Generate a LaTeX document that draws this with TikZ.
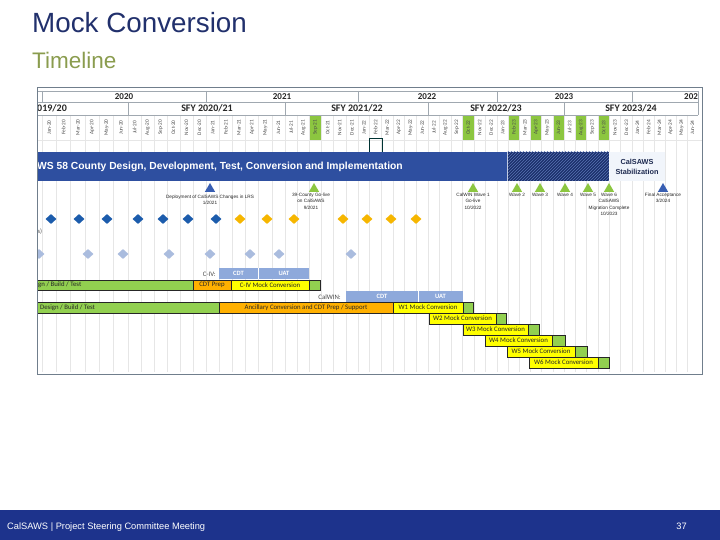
\documentclass[tikz,border=0pt]{standalone}
\usepackage{fontspec}
\setmainfont{Liberation Sans}
\newfontfamily\calib{Carlito}
\usetikzlibrary{shapes.geometric,patterns}

\definecolor{titlenavy}{RGB}{33,48,108}
\definecolor{subolive}{RGB}{138,156,78}
\definecolor{footblue}{RGB}{29,51,140}
\definecolor{barblue}{RGB}{46,79,160}
\definecolor{hatchblue}{RGB}{28,48,108}
\definecolor{stabfill}{RGB}{241,245,251}
\definecolor{stabtext}{RGB}{30,42,80}
\definecolor{msblue}{RGB}{56,94,178}
\definecolor{msgreen}{RGB}{140,198,64}
\definecolor{dblue}{RGB}{28,92,172}
\definecolor{dgold}{RGB}{246,182,0}
\definecolor{dlight}{RGB}{170,188,222}
\definecolor{bgreen}{RGB}{146,208,80}
\definecolor{borange}{RGB}{255,176,0}
\definecolor{byellow}{RGB}{255,255,0}
\definecolor{btest}{RGB}{142,169,219}
\definecolor{hdrline}{RGB}{160,168,176}
\definecolor{gridline}{RGB}{230,230,230}
\definecolor{shotframe}{RGB}{112,126,140}

\begin{document}
\begin{tikzpicture}[x=1pt,y=-1pt,
  mon/.style={rotate=90,inner sep=0pt,font=\calib\fontsize{5.3}{5.3}\selectfont,text=black!70},
  hdr/.style={inner sep=0pt,font=\calib\bfseries\fontsize{10}{10}\selectfont,text=black!85},
  ms/.style={regular polygon,regular polygon sides=3,minimum size=12pt,inner sep=0pt},
  mslab/.style={anchor=north,align=center,inner sep=0pt,font=\fontsize{4.7}{6.3}\selectfont,text=black!85},
  dmd/.style={diamond,minimum width=11pt,minimum height=10pt,inner sep=0pt},
  barbox/.style={draw=black!85,line width=0.5pt},
  bartxt/.style={inner sep=0pt,font=\calib\fontsize{6.8}{7}\selectfont,text=black!85},
  testtxt/.style={inner sep=0pt,font=\calib\bfseries\fontsize{6.5}{7}\selectfont,text=white},
]
\def\hb{{42,128,206,285,358,428,497,564,632,698}}
% name, x1, y1, x2, y2, colour, text
\def\ganttbar#1#2#3#4#5#6#7{%
  \draw[barbox,fill=#6] (#2,#3) rectangle (#4,#5);
  \node[bartxt] (#1) at ({(#2+#4)/2},{(#3+#5)/2}) {#7};}
\useasboundingbox (0,0) rectangle (720,540);

% slide title
\node[anchor=base west,inner sep=0pt,font=\fontsize{27.8}{30}\selectfont,text=titlenavy] (title) at (32,33) {Mock Conversion};
\node[anchor=base west,inner sep=0pt,font=\fontsize{22.5}{25}\selectfont,text=subolive] (subtitle) at (32,68.5) {Timeline};

\begin{scope}
\clip (37,87) rectangle (702,374);
\fill[white] (37,87) rectangle (702,374);
% month columns
\foreach \yy in {20,...,24}{
  \foreach \mm [count=\k from 0] in {Jan,Feb,Mar,Apr,May,Jun,Jul,Aug,Sep,Oct,Nov,Dec}{
    \pgfmathtruncatemacro\m{12*(\yy-20)+\k}
    \ifnum\m<54
      \pgfmathtruncatemacro\h{\m/6}
      \pgfmathsetmacro\xa{\hb[\h]}
      \pgfmathsetmacro\xb{\hb[\h+1]}
      \pgfmathsetmacro\w{(\xb-\xa)/6}
      \pgfmathsetmacro\xl{\xa+\w*(\m-6*\h)}
      \pgfmathtruncatemacro\hl{(\m==20)||(\m==33)||(\m==37)||(\m==39)||(\m==41)||(\m==43)||(\m==45)}
      \ifnum\hl=1 \fill[msgreen] (\xl,115) rectangle ++(\w,25); \fi
      \draw[gridline] (\xl,115) -- (\xl,372);
      \node[mon] (m\m) at (\xl+\w/2,127.5) {\mm-\yy};
    \fi
  }}
\draw[gridline] (37,140) -- (702,140);

% year and SFY rows
\draw[hdrline] (30,91) -- (698,91) (30,102) -- (698,102) (30,115) -- (698,115);
\foreach \x in {42,206,358,497,632,698} \draw[hdrline] (\x,91) -- (\x,102);
\foreach \x in {128,285,428,564,698} \draw[hdrline] (\x,102) -- (\x,115);
\node[hdr,font=\calib\bfseries\fontsize{9}{9}\selectfont] (y20) at (124,96.5) {2020};
\node[hdr,font=\calib\bfseries\fontsize{9}{9}\selectfont] (y21) at (282,96.5) {2021};
\node[hdr,font=\calib\bfseries\fontsize{9}{9}\selectfont] (y22) at (427,96.5) {2022};
\node[hdr,font=\calib\bfseries\fontsize{9}{9}\selectfont] (y23) at (564,96.5) {2023};
\node[hdr,font=\calib\bfseries\fontsize{9}{9}\selectfont,anchor=west] (y24) at (684,96.5) {202};
\node[hdr,anchor=west] (sfy19) at (37,108.5) {019/20};
\node[hdr] (sfy20) at (207,108.5) {SFY 2020/21};
\node[hdr] (sfy21) at (357,108.5) {SFY 2021/22};
\node[hdr] (sfy22) at (496,108.5) {SFY 2022/23};
\node[hdr] (sfy23) at (631,108.5) {SFY 2023/24};
\draw[black!60!teal,line width=0.6pt] (369,138) rectangle (382,152);

% implementation bar
\fill[barblue] (37,152) rectangle (507,181);
\fill[hatchblue] (507,152) rectangle (609,181);
\fill[pattern=north east lines,pattern color=barblue!80] (507,152) rectangle (609,181);
\draw[white!70!barblue] (507,152) -- (507,181);
\fill[stabfill] (609,152) rectangle (665,181);
\node[anchor=west,inner sep=0pt,font=\bfseries\fontsize{10.3}{11}\selectfont,text=white] (impl) at (37,166.5)
  {WS 58 County Design, Development, Test, Conversion and Implementation};
\node[align=center,inner sep=0pt,font=\bfseries\fontsize{7.3}{10}\selectfont,text=stabtext] (stab) at (637,167)
  {CalSAWS\\Stabilization};

% milestones
\node[ms,fill=msblue] (lrs) at (210,189) {};
\node[mslab] (lrslab) at (210,194.5) {Deployment of CalSAWS Changes in LRS\\1/2021};
\node[ms,fill=msgreen] (gl39) at (314,189) {};
\node[mslab] (gl39lab) at (311,193) {39-County Go-live\\on CalSAWS\\9/2021};
\node[ms,fill=msgreen] (wave1) at (473,189) {};
\node[mslab] (wave1lab) at (473,193) {CalWIN Wave 1\\Go-live\\10/2022};
\node[ms,fill=msgreen] (wave2) at (517,189) {};
\node[mslab] (wave2lab) at (517,193) {Wave 2};
\node[ms,fill=msgreen] (wave3) at (540,189) {};
\node[mslab] (wave3lab) at (540,193) {Wave 3};
\node[ms,fill=msgreen] (wave4) at (565,189) {};
\node[mslab] (wave4lab) at (565,193) {Wave 4};
\node[ms,fill=msgreen] (wave5) at (588,189) {};
\node[mslab] (wave5lab) at (588,193) {Wave 5};
\node[ms,fill=msgreen] (wave6) at (609,189) {};
\node[mslab] (wave6lab) at (609,193) {Wave 6\\CalSAWS\\Migration Complete\\10/2023};
\node[ms,fill=msblue] (final) at (663,189) {};
\node[mslab] (finallab) at (663,193) {Final Acceptance\\3/2024};

% diamonds
\foreach \x in {51,79,107,138,163,188,216} \node[dmd,fill=dblue] (db\x) at (\x,219) {};
\foreach \x in {240,267,294,343,367,391,416} \node[dmd,fill=dgold] (dg\x) at (\x,219) {};
\foreach \x in {39,88,123,169,210,250,279,351} \node[dmd,fill=dlight] (dl\x) at (\x,254) {};
\node[anchor=west,inner sep=0pt,font=\calib\fontsize{6.5}{7}\selectfont,text=black!65] (srest) at (37.5,232) {s)};

% C-IV row
\fill[btest] (219,268) rectangle (309,279);
\draw[white] (258.5,268) -- (258.5,279);
\node[testtxt] (civcdt) at (238.5,273.5) {CDT};
\node[testtxt] (civuat) at (284,273.5) {UAT};
\node[bartxt,anchor=east,text=black!70] (civ) at (216,274) {C-IV:};
\ganttbar{civdbt}{30}{280}{193}{290}{bgreen}{}
\node[bartxt,anchor=west] (civdbtlab) at (38,285) {gn / Build / Test};
\ganttbar{civprep}{193}{280}{231}{290}{borange}{CDT Prep}
\ganttbar{civmock}{231}{280}{309}{290}{byellow}{C-IV Mock Conversion}
\ganttbar{civend}{309}{280}{320}{290}{bgreen}{}

% CalWIN rows
\fill[btest] (346,291) rectangle (463,301.5);
\draw[white] (418,291) -- (418,301.5);
\node[testtxt] (cwcdt) at (382,296.5) {CDT};
\node[testtxt] (cwuat) at (440.5,296.5) {UAT};
\node[bartxt,anchor=east,text=black!70] (cwin) at (341,297) {CalWIN:};
\ganttbar{cwdbt}{30}{302}{219}{313}{bgreen}{}
\node[bartxt,anchor=west] (cwdbtlab) at (34,307.5) {N Design / Build / Test};
\ganttbar{cwanc}{219}{302}{393}{313}{borange}{Ancillary Conversion and CDT Prep / Support}
\ganttbar{wamock}{393}{302}{463}{313}{byellow}{W1 Mock Conversion}
\ganttbar{waend}{463}{302}{473}{313}{bgreen}{}
\ganttbar{wbmock}{429}{313}{496}{324}{byellow}{W2 Mock Conversion}
\ganttbar{wbend}{496}{313}{506}{324}{bgreen}{}
\ganttbar{wcmock}{463}{324}{528}{335}{byellow}{W3 Mock Conversion}
\ganttbar{wcend}{528}{324}{539}{335}{bgreen}{}
\ganttbar{wdmock}{485}{335}{552}{346}{byellow}{W4 Mock Conversion}
\ganttbar{wdend}{552}{335}{565}{346}{bgreen}{}
\ganttbar{wemock}{507}{346}{575}{357}{byellow}{W5 Mock Conversion}
\ganttbar{weend}{575}{346}{587}{357}{bgreen}{}
\ganttbar{wfmock}{529}{357}{598}{368}{byellow}{W6 Mock Conversion}
\ganttbar{wfend}{598}{357}{609}{368}{bgreen}{}
\end{scope}
\draw[shotframe,line width=0.8pt] (37,87) rectangle (702,374);

% footer
\fill[footblue] (0,510) rectangle (720,540);
\node[anchor=base west,inner sep=0pt,font=\fontsize{9.3}{10}\selectfont,text=white] (foot) at (7,529) {CalSAWS | Project Steering Committee Meeting};
\node[anchor=base east,inner sep=0pt,font=\fontsize{9.3}{10}\selectfont,text=white] (page) at (687,529) {37};
\end{tikzpicture}
\end{document}
